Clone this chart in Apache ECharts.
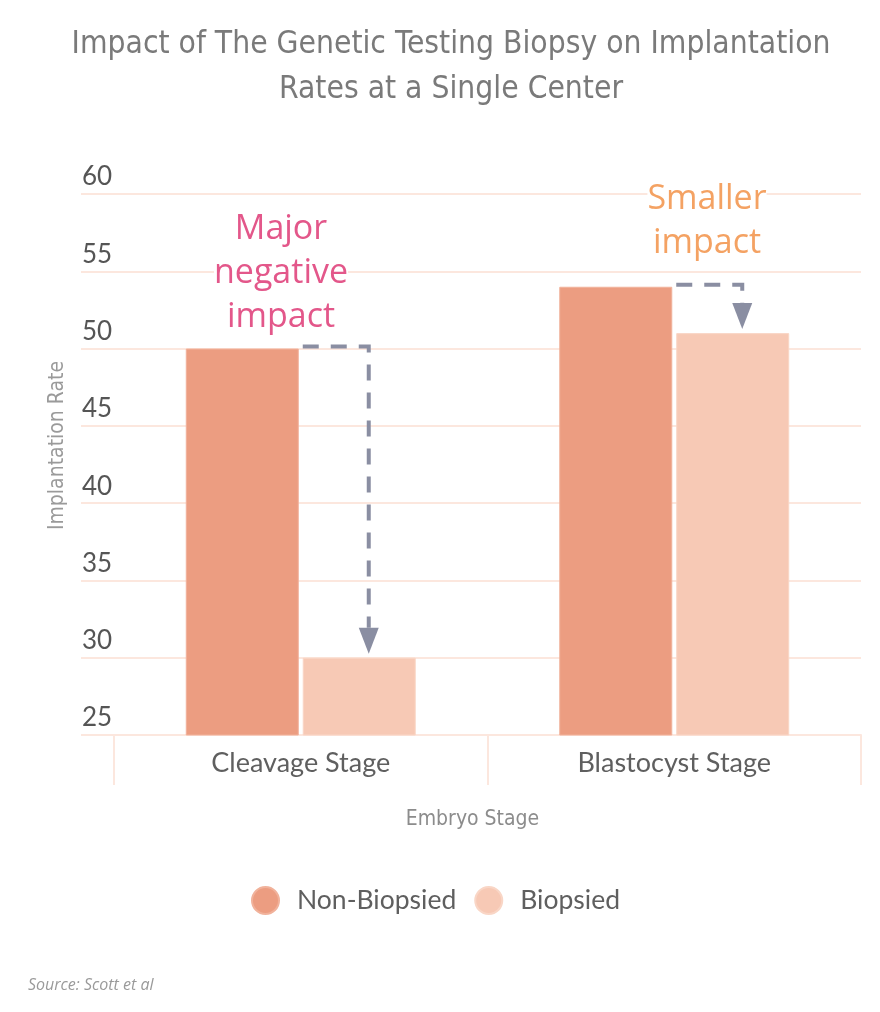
<!DOCTYPE html>
<html>
<head>
<meta charset="utf-8">
<script src="https://cdn.jsdelivr.net/npm/echarts@6/dist/echarts.min.js"></script>
<style>
html,body{margin:0;padding:0;background:#fff;}
#chart{width:880px;height:1012px;}
</style>
</head>
<body>
<div id="chart"></div>
<script>
const titleText = 'Impact of The Genetic Testing Biopsy on Implantation\nRates at a Single Center';
const categories = ['Cleavage Stage', 'Blastocyst Stage'];
const seriesNames = ['Non-Biopsied', 'Biopsied'];
const nonBiopsied = [50, 54];
const biopsied = [30, 51];
const yTicks = [25, 30, 35, 40, 45, 50, 55, 60];
const annotations = ['Major\nnegative\nimpact', 'Smaller\nimpact'];
const sourceText = 'Source: Scott et al';

const condensed = '"Liberation Sans Narrow", "DejaVu Sans Condensed", "Roboto", sans-serif';
const sans = 'Lato, "Noto Sans", sans-serif';
const gridColor = '#fce7de';
const arrowColor = '#8a8ea2';

const chart = echarts.init(document.getElementById('chart'), null, {renderer: 'canvas'});

const option = {
  backgroundColor: '#ffffff',
  animation: false,
  title: {
    text: titleText,
    left: 446,
    top: 17,
    textAlign: 'center',
    textStyle: {
      fontFamily: condensed,
      fontWeight: 'normal',
      fontSize: 31.5,
      lineHeight: 45,
      color: '#7a7a7a'
    }
  },
  legend: {
    data: seriesNames,
    left: 246,
    top: 881,
    icon: 'circle',
    itemWidth: 27,
    itemHeight: 27,
    itemGap: 18,
    textStyle: {
      fontFamily: sans,
      fontSize: 26.5,
      color: '#5f5f5f',
      padding: [0, 0, 0, 13]
    }
  },
  grid: [
    {left: 114, right: 19, top: 194, bottom: 277, containLabel: false},
    {left: 81, width: 33, top: 194, bottom: 277, containLabel: false}
  ],
  xAxis: [
    {
      type: 'category',
      gridIndex: 0,
      data: categories,
      axisLine: {show: true, lineStyle: {color: gridColor, width: 2}},
      axisTick: {show: true, length: 50, interval: 0, lineStyle: {color: gridColor, width: 2}},
      axisLabel: {
        margin: 15,
        fontFamily: sans,
        fontSize: 27,
        color: '#5f5f5f'
      },
      name: 'Embryo Stage',
      nameLocation: 'middle',
      nameGap: 74,
      nameTextStyle: {
        fontFamily: condensed,
        fontSize: 21,
        color: '#8c8c8c',
        padding: [0, 30, 0, 0]
      }
    },
    {
      type: 'value',
      gridIndex: 1,
      show: false
    }
  ],
  yAxis: [
    {
      type: 'value',
      gridIndex: 0,
      min: 25,
      max: 60,
      interval: 5,
      axisLine: {show: false},
      axisTick: {show: false},
      splitLine: {show: true, lineStyle: {color: gridColor, width: 2}},
      axisLabel: {
        margin: 32,
        align: 'left',
        verticalAlign: 'bottom',
        fontFamily: sans,
        fontSize: 26,
        lineHeight: 26,
        padding: [0, 0, 4, 0],
        color: '#555555',
        formatter: v => yTicks.includes(v) ? String(v) : ''
      },
      name: 'Implantation Rate',
      nameLocation: 'middle',
      nameRotate: 90,
      nameGap: 46,
      nameTextStyle: {
        fontFamily: condensed,
        fontSize: 21,
        color: '#9a9a9a',
        padding: [0, 0, 0, 38]
      }
    },
    {
      type: 'value',
      gridIndex: 1,
      min: 25,
      max: 60,
      interval: 5,
      axisLine: {show: false},
      axisTick: {show: false},
      axisLabel: {show: false},
      splitLine: {show: true, lineStyle: {color: gridColor, width: 2}}
    }
  ],
  series: [
    {
      name: seriesNames[0],
      type: 'bar',
      xAxisIndex: 0,
      yAxisIndex: 0,
      data: nonBiopsied,
      barWidth: 113,
      barGap: '3.5%',
      itemStyle: {color: '#ec9d81', borderColor: '#f1b29b', borderWidth: 1},
      z: 2
    },
    {
      name: seriesNames[1],
      type: 'bar',
      xAxisIndex: 0,
      yAxisIndex: 0,
      data: biopsied,
      barWidth: 113,
      barGap: '3.5%',
      itemStyle: {color: '#f7c9b5', borderColor: '#f9d6c6', borderWidth: 1},
      z: 2
    },
    {
      name: 'arrows',
      type: 'custom',
      xAxisIndex: 0,
      yAxisIndex: 0,
      z: 5,
      silent: true,
      data: categories.map((c, i) => [i, nonBiopsied[i], biopsied[i]]),
      encode: {x: 0, y: 1},
      renderItem: function (params, api) {
        const i = api.value(0);
        const top = api.coord([i, api.value(1)]);
        const low = api.coord([i, api.value(2)]);
        const cx = top[0];
        const x0 = cx + 2;
        const xv = cx + 68;
        const yh = top[1] - 2;
        const tip = low[1] - 4;
        const head = 26;
        return {
          type: 'group',
          children: [
            {
              type: 'polyline',
              shape: {points: [[x0, yh], [xv, yh], [xv, tip - head]]},
              style: {stroke: arrowColor, lineWidth: 4, lineDash: [16, 12], fill: null, lineCap: 'butt', lineJoin: 'miter'}
            },
            {
              type: 'polygon',
              shape: {points: [[xv - 10, tip - head], [xv + 10, tip - head], [xv, tip]]},
              style: {fill: arrowColor}
            }
          ]
        };
      }
    }
  ],
  graphic: [
    {
      type: 'text',
      x: 281,
      y: 207,
      z: 10,
      style: {
        text: annotations[0],
        textAlign: 'center',
        textVerticalAlign: 'top',
        fontFamily: '"Open Sans", sans-serif',
        fontSize: 34,
        lineHeight: 44,
        fill: '#e3578a',
        backgroundColor: '#ffffff'
      }
    },
    {
      type: 'text',
      x: 707,
      y: 177,
      z: 10,
      style: {
        text: annotations[1],
        textAlign: 'center',
        textVerticalAlign: 'top',
        fontFamily: '"Open Sans", sans-serif',
        fontSize: 34,
        lineHeight: 44,
        fill: '#f4a263',
        backgroundColor: '#ffffff'
      }
    },
    {
      type: 'text',
      x: 28,
      y: 977,
      style: {
        text: sourceText,
        fontFamily: '"Open Sans", sans-serif',
        fontStyle: 'italic',
        fontSize: 16,
        fill: '#9a9a9a'
      }
    }
  ]
};

chart.setOption(option);
</script>
</body>
</html>
